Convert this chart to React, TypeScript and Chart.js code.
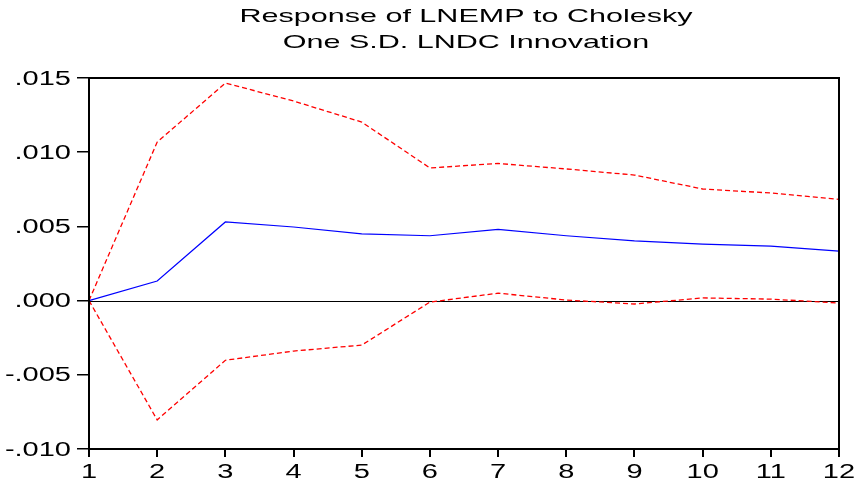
import React, { useEffect, useRef } from "react";
import { Chart, registerables } from "chart.js";

Chart.register(...registerables);

const periods = ["1", "2", "3", "4", "5", "6", "7", "8", "9", "10", "11", "12"];
const response = [0, 0.00132, 0.0053, 0.00496, 0.0045, 0.00437, 0.0048, 0.00437, 0.00402, 0.0038, 0.00367, 0.00334];
const upperBand = [0, 0.01068, 0.01466, 0.01345, 0.01203, 0.00894, 0.00924, 0.00887, 0.00846, 0.00752, 0.00725, 0.00682];
const lowerBand = [0, -0.00804, -0.00402, -0.0034, -0.003, -0.0001, 0.0005, 0.00004, -0.00023, 0.00018, 0.0001, -0.00016];
const yTicks = [-0.01, -0.005, 0, 0.005, 0.01, 0.015];
const titleLines = ["Response of LNEMP to Cholesky", "One S.D. LNDC Innovation"];

const FONT = "Arial, 'Liberation Sans', sans-serif";
const STRETCH = 1.45;

const fmtY = (v: number) => Number(v).toFixed(3).replace("0.", ".");

function stretchedText(ctx: any, text: string, x: number, y: number, sx: number) {
  ctx.save();
  ctx.translate(x, y);
  ctx.scale(sx, 1);
  ctx.fillText(text, 0, 0);
  ctx.restore();
}

const framePlugin = {
  id: "frame",
  beforeDatasetsDraw(chart: any) {
    const { ctx, chartArea } = chart;
    const y0 = chart.scales.y.getPixelForValue(0);
    ctx.save();
    ctx.strokeStyle = "#000";
    ctx.lineWidth = 1;
    ctx.beginPath();
    ctx.moveTo(chartArea.left, Math.round(y0) + 0.5);
    ctx.lineTo(chartArea.right, Math.round(y0) + 0.5);
    ctx.stroke();
    ctx.restore();
  },
  afterDraw(chart: any) {
    const { ctx, chartArea } = chart;
    const xs = chart.scales.x;
    const ys = chart.scales.y;
    ctx.save();
    ctx.strokeStyle = "#000";
    ctx.lineWidth = 2;
    ctx.strokeRect(chartArea.left, chartArea.top, chartArea.right - chartArea.left, chartArea.bottom - chartArea.top);
    ctx.fillStyle = "#000";

    // title
    ctx.font = `19px ${FONT}`;
    ctx.textAlign = "center";
    ctx.textBaseline = "alphabetic";
    const cx = (chartArea.left + chartArea.right) / 2 + 2;
    const w0 = ctx.measureText(titleLines[0]).width;
    const tsx = 453 / w0;
    stretchedText(ctx, titleLines[0], cx, 22, tsx);
    stretchedText(ctx, titleLines[1], cx, 48, tsx);

    // y tick labels
    ctx.font = `20px ${FONT}`;
    ctx.textAlign = "right";
    ctx.textBaseline = "middle";
    yTicks.forEach((v) => {
      const py = ys.getPixelForValue(v);
      stretchedText(ctx, fmtY(v), 71, py + 1, STRETCH);
    });

    // x tick labels
    ctx.textAlign = "center";
    ctx.textBaseline = "alphabetic";
    periods.forEach((lab, i) => {
      const px = xs.getPixelForValue(i);
      stretchedText(ctx, lab, px, 478, STRETCH);
    });
    ctx.restore();
  },
};

export default function App() {
  const ref = useRef<HTMLCanvasElement>(null);
  useEffect(() => {
    if (!ref.current) return;
    const chart = new Chart(ref.current, {
      type: "line",
      data: {
        labels: periods,
        datasets: [
          { data: response, borderColor: "#0000ff", borderWidth: 1.2, pointRadius: 0, tension: 0 },
          { data: upperBand, borderColor: "#ff0000", borderWidth: 1.3, borderDash: [5, 3], pointRadius: 0, tension: 0 },
          { data: lowerBand, borderColor: "#ff0000", borderWidth: 1.3, borderDash: [5, 3], pointRadius: 0, tension: 0 },
        ],
      },
      options: {
        animation: false,
        responsive: false,
        devicePixelRatio: 1,
        layout: { padding: { top: 78, right: 18, left: 0, bottom: 0 } },
        plugins: { legend: { display: false }, tooltip: { enabled: false }, title: { display: false } },
        scales: {
          x: {
            offset: false,
            afterFit(s: any) { s.height = 33; },
            grid: { drawOnChartArea: false, tickLength: 8, color: "#000", lineWidth: 2 },
            border: { display: true, color: "#000", width: 2 },
            ticks: { display: false, autoSkip: false, maxRotation: 0 },
          },
          y: {
            min: -0.01,
            max: 0.015,
            afterFit(s: any) { s.width = 89; },
            afterBuildTicks(s: any) { s.ticks = yTicks.map((v) => ({ value: v })); },
            grid: { drawOnChartArea: false, tickLength: 12, color: "#000", lineWidth: 1.5 },
            border: { display: true, color: "#000", width: 2 },
            ticks: { display: false },
          },
        },
      },
      plugins: [framePlugin],
    });
    return () => chart.destroy();
  }, []);
  return (
    <canvas
      ref={ref}
      width={857}
      height={482}
      style={{ position: "absolute", left: 0, top: 0, width: 857, height: 482, background: "#fff" }}
    />
  );
}
